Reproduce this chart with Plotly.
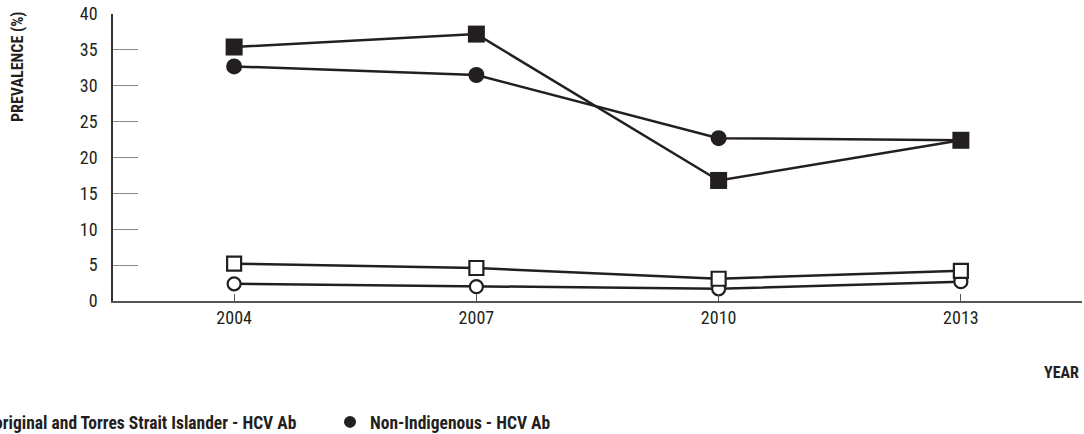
import plotly.graph_objects as go

years = [2004, 2007, 2010, 2013]
atsi_hcv_ab = [35.4, 37.2, 16.8, 22.4]
nonindig_hcv_ab = [32.7, 31.5, 22.7, 22.4]
atsi_low = [5.2, 4.6, 3.1, 4.2]
nonindig_low = [2.4, 2.0, 1.7, 2.7]
y_ticks = [0, 5, 10, 15, 20, 25, 30, 35, 40]

series_names = [
    "Aboriginal and Torres Strait Islander - HCV Ab",
    "Non-Indigenous - HCV Ab",
    "Aboriginal and Torres Strait Islander - HCV RNA",
    "Non-Indigenous - HCV RNA",
]

INK = "#231f20"
FONT = "Roboto Condensed, DejaVu Sans Condensed, Arial Narrow, Roboto, sans-serif"

# plot area in page px: x 113..1082, y 14..301
FW, FH = 1084, 434
L, T, W, H = 113, 14, 969, 287
BOTTOM = T + H

fig = go.Figure()
fig.add_trace(go.Scatter(
    x=years, y=nonindig_low, name=series_names[3], mode="lines+markers",
    line=dict(color=INK, width=2.5),
    marker=dict(symbol="circle", size=13, color="white", line=dict(color=INK, width=2.2)),
    showlegend=False))
fig.add_trace(go.Scatter(
    x=years, y=atsi_low, name=series_names[2], mode="lines+markers",
    line=dict(color=INK, width=2.5),
    marker=dict(symbol="square", size=14, color="white", line=dict(color=INK, width=2.2)),
    showlegend=False))
fig.add_trace(go.Scatter(
    x=years, y=nonindig_hcv_ab, name=series_names[1], mode="lines+markers",
    line=dict(color=INK, width=2.5),
    marker=dict(symbol="circle", size=16, color=INK), showlegend=False))
fig.add_trace(go.Scatter(
    x=years, y=atsi_hcv_ab, name=series_names[0], mode="lines+markers",
    line=dict(color=INK, width=2.5),
    marker=dict(symbol="square", size=17, color=INK), showlegend=False))

# legend entries (markers only, as in the reference key)
fig.add_trace(go.Scatter(
    x=[None], y=[None], name=series_names[0], mode="markers",
    marker=dict(symbol="square", size=15, color=INK)))
fig.add_trace(go.Scatter(
    x=[None], y=[None], name=series_names[1], mode="markers",
    marker=dict(symbol="circle", size=15, color=INK)))

fig.update_layout(
    width=FW, height=FH,
    margin=dict(l=L, r=FW - L - W, t=T, b=FH - BOTTOM, autoexpand=False),
    paper_bgcolor="white", plot_bgcolor="white",
    font=dict(family=FONT, size=18, color=INK),
    showlegend=True,
    legend=dict(
        orientation="h", traceorder="normal",
        x=(-65 - L) / W, xanchor="left", y=(BOTTOM - 404) / H, yanchor="top",
        font=dict(family=FONT, size=17.5, color=INK, weight="bold"),
        entrywidth=350, itemsizing="constant",
        bgcolor="rgba(0,0,0,0)",
    ),
    xaxis=dict(
        range=[2002.5, 2014.5], tickvals=years, ticktext=[str(y) for y in years],
        showgrid=False, zeroline=False, showline=True, linecolor="#555555", linewidth=1.5,
        ticks="inside", ticklen=7, tickcolor="#555555", tickwidth=1,
        tickfont=dict(family=FONT, size=18, color=INK), ticklabeloverflow="allow",
    ),
    yaxis=dict(
        range=[0, 40], tickvals=y_ticks,
        showgrid=False, zeroline=False, showline=True, linecolor="#333333", linewidth=1.5,
        ticks="inside", ticklen=25, tickcolor="#888888", tickwidth=1.2,
        tickfont=dict(family=FONT, size=18, color=INK), ticklabelstandoff=10,
        ticklabeloverflow="allow",
    ),
    annotations=[
        dict(text="<b>PREVALENCE (%)</b>", xref="paper", yref="paper",
             x=(17 - L) / W, y=(BOTTOM - 67) / H, textangle=-90,
             showarrow=False, xanchor="center", yanchor="middle",
             font=dict(family=FONT, size=16, color=INK)),
        dict(text="<b>YEAR</b>", xref="paper", yref="paper",
             x=(1081 - L) / W, y=(BOTTOM - 372) / H, showarrow=False,
             xanchor="right", yanchor="middle",
             font=dict(family=FONT, size=16, color=INK)),
    ],
)

fig.write_html(
    "out.html",
    config={"displayModeBar": False},
    post_script="document.body.style.margin='0';document.body.style.overflow='hidden';",
)
